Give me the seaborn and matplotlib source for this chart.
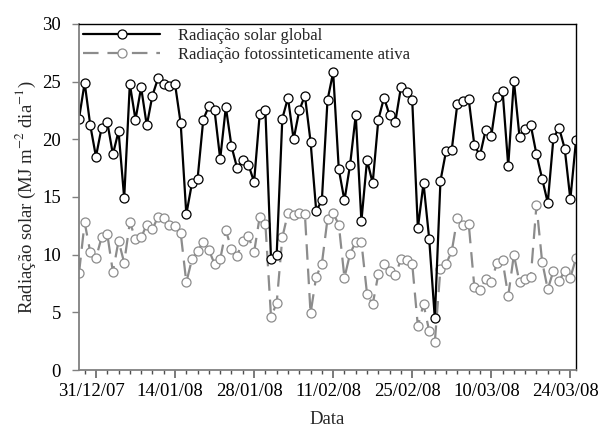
import pandas as pd
import numpy as np
import seaborn as sns
import matplotlib.pyplot as plt
import matplotlib.transforms as mtransforms

# daily values, 28/12/2007 to 25/03/2008
start_date = "2007-12-28"

rad_global = [21.8, 24.9, 21.2, 18.5, 21.0, 21.5, 18.7, 20.7, 14.9, 24.8,
              21.7, 24.5, 21.2, 23.8, 25.3, 24.8, 24.6, 24.8, 21.4, 13.5,
              16.2, 16.6, 21.7, 22.9, 22.5, 18.3, 22.8, 19.4, 17.5, 18.2,
              17.8, 16.3, 22.2, 22.5, 9.6, 10.0, 21.8, 23.6, 20.0, 22.5,
              23.8, 19.8, 13.8, 14.7, 23.4, 25.8, 17.4, 14.7, 17.8, 22.1,
              12.9, 18.2, 16.2, 21.7, 23.6, 22.1, 21.5, 24.5, 24.1, 23.4,
              12.3, 16.2, 11.4, 4.5, 16.4, 19.0, 19.1, 23.1, 23.3, 23.5,
              19.5, 18.6, 20.8, 20.3, 23.7, 24.2, 17.7, 25.1, 20.2, 20.9,
              21.2, 18.7, 16.6, 14.5, 20.1, 21.0, 19.2, 14.8, 19.9]

rad_par = [8.4, 12.8, 10.2, 9.7, 11.5, 11.8, 8.5, 11.2, 9.3, 12.8,
           11.4, 11.5, 12.6, 12.2, 13.3, 13.2, 12.6, 12.5, 11.9, 7.6,
           9.6, 10.3, 11.1, 10.4, 9.2, 9.6, 12.1, 10.5, 9.9, 11.2,
           11.6, 10.2, 13.3, 12.7, 4.6, 5.8, 11.5, 13.6, 13.4, 13.6,
           13.5, 4.9, 8.1, 9.2, 13.1, 13.6, 12.6, 8.0, 10.1, 11.1,
           11.1, 6.6, 5.7, 8.3, 9.2, 8.6, 8.2, 9.6, 9.5, 9.2,
           3.8, 5.7, 3.4, 2.4, 8.8, 9.2, 10.3, 13.2, 12.6, 12.7,
           7.2, 6.9, 7.9, 7.6, 9.3, 9.5, 6.4, 10.0, 7.6, 7.9,
           8.1, 14.3, 9.4, 7.0, 8.6, 7.7, 8.6, 8.0, 9.7]

x_ticklabels = ['31/12/07', '14/01/08', '28/01/08', '11/02/08', '25/02/08', '10/03/08', '24/03/08']
y_ticks = [0, 5, 10, 15, 20, 25, 30]

dates = pd.date_range(start_date, periods=len(rad_global), freq='D')
data = pd.DataFrame({'Data': dates, 'global': rad_global, 'par': rad_par})

sns.set_style("ticks")
plt.rcParams['font.family'] = ['Liberation Serif', 'DejaVu Serif']
plt.rcParams['mathtext.fontset'] = 'stix'

fig = plt.figure(figsize=(5.99, 4.37), dpi=100)
ax = fig.add_axes([0.1319, 0.1533, 0.8297, 0.7918])

sns.lineplot(ax=ax, data=data, x='Data', y='par', color='#8c8c8c', linewidth=1.6,
             linestyle=(0, (7, 4)), marker='o', markersize=6.5, markerfacecolor='white',
             markeredgecolor='#8c8c8c', markeredgewidth=0.9,
             label='Radiação fotossinteticamente ativa')
sns.lineplot(ax=ax, data=data, x='Data', y='global', color='black', linewidth=1.6,
             marker='o', markersize=6.5, markerfacecolor='white', markeredgecolor='black',
             markeredgewidth=0.9, label='Radiação solar global')

ax.set_xlim(dates[0], dates[-1])
ax.set_ylim(0, 30)
ax.set_yticks(y_ticks)

tick_dates = pd.to_datetime(x_ticklabels, format='%d/%m/%y')
ax.set_xticks(tick_dates)
ax.set_xticklabels(x_ticklabels)
ax.set_xticks(pd.date_range('2007-12-29', dates[-1], freq='2D'), minor=True)

ax.tick_params(axis='both', labelsize=13.5, colors='black')
ax.tick_params(axis='y', length=5, width=1, pad=8, color='#808080')
ax.tick_params(axis='x', which='major', length=6, width=1.3, pad=3, color='#707070')
ax.tick_params(axis='x', which='minor', length=3, width=1, color='#505050')

# labels sit a few pixels left of their ticks, as in the original
shift = mtransforms.ScaledTranslation(-5 / 100, 0, fig.dpi_scale_trans)
for lab in ax.get_xticklabels():
    lab.set_transform(lab.get_transform() + shift)

for side in ['left', 'bottom']:
    ax.spines[side].set_color('#808080')
    ax.spines[side].set_linewidth(1.3)
for side in ['top', 'right']:
    ax.spines[side].set_color('black')
    ax.spines[side].set_linewidth(1.0)

ax.set_xlabel('Data', fontsize=13.5, labelpad=8)
ax.set_ylabel('Radiação solar (MJ m$^{-2}$ dia$^{-1}$)', fontsize=13.5, labelpad=3)

handles, labels = ax.get_legend_handles_labels()
ax.legend(handles[::-1], labels[::-1], loc='upper left', frameon=False, fontsize=12,
          handlelength=4.6, handletextpad=1.1, borderaxespad=0.05, labelspacing=0.15,
          borderpad=0.2)

fig.savefig('out.png', dpi=100)
